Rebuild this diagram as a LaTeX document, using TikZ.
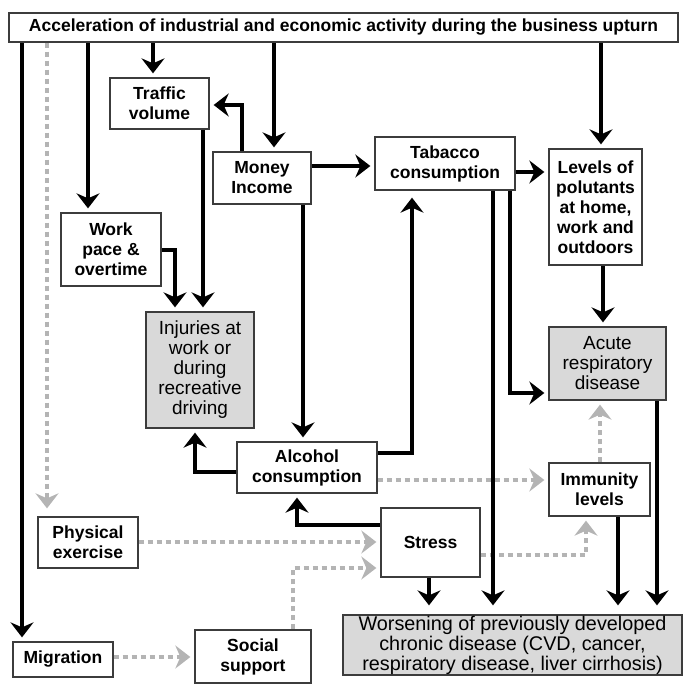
\documentclass[tikz,border=0pt]{standalone}
\usepackage{fontspec}
\setmainfont{Liberation Sans}
\usetikzlibrary{arrows.meta}
\pgfdeclarelayer{nodelayer}
\pgfdeclarelayer{edgelayer}
\pgfsetlayers{edgelayer,nodelayer,main}
\definecolor{boxgrey}{RGB}{217,217,217}
\definecolor{dotgrey}{RGB}{180,180,180}
\definecolor{rimgrey}{RGB}{60,60,60}
\tikzset{
    box/.style = {draw=rimgrey, line width=1.3pt, fill=white, align=center, inner sep=0pt,
                  font=\bfseries\fontsize{17.5}{20}\selectfont},
    shaded/.style = {box, fill=boxgrey, font=\fontsize{19}{20}\selectfont},
    arr/.style = {line width=4pt, -{Stealth[length=15pt, width=23pt, inset=5pt]}, shorten >=4pt},
    dotarr/.style = {arr, dotgrey, line width=4.5pt, dash pattern=on 5pt off 4pt}
}

\begin{document}
\begin{tikzpicture}[x=1pt, y=-1pt]
  \useasboundingbox (0,0) rectangle (684,685);
  \begin{pgfonlayer}{nodelayer}
    \node [box, minimum width=669, minimum height=29, font=\bfseries\fontsize{17.5}{20}\selectfont] (top) at (343.5,27.5) {Acceleration of industrial and economic activity during the business upturn};
    \node [box, minimum width=99, minimum height=51] (traffic) at (159.5,103.5) {Traffic\\volume};
    \node [box, minimum width=98, minimum height=52] (money) at (262,178) {Money\\Income};
    \node [box, minimum width=100, minimum height=73] (work) at (111,249.5) {Work\\pace \&\\overtime};
    \node [shaded, minimum width=108, minimum height=116] (injuries) at (200,370) {Injuries at\\work or\\during\\recreative\\driving};
    \node [box, minimum width=140, minimum height=53] (tabacco) at (445,163.5) {Tabacco\\consumption};
    \node [box, minimum width=93, minimum height=116] (levels) at (595.5,207) {Levels of\\polutants\\at home,\\work and\\outdoors};
    \node [shaded, minimum width=117, minimum height=73] (acute) at (607.5,363.5) {Acute\\respiratory\\disease};
    \node [box, minimum width=140, minimum height=51] (alcohol) at (307,467.5) {Alcohol\\consumption};
    \node [box, minimum width=100, minimum height=51] (physical) at (88,542.5) {Physical\\exercise};
    \node [box, minimum width=99, minimum height=69] (stress) at (430.5,542.5) {Stress};
    \node [box, minimum width=101, minimum height=53] (immunity) at (599.5,489.5) {Immunity\\levels};
    \node [box, minimum width=100, minimum height=35] (migration) at (63,659.5) {Migration};
    \node [box, minimum width=116, minimum height=53] (social) at (253,656.5) {Social\\support};
    \node [shaded, minimum width=339, minimum height=60, font=\fontsize{19.8}{20}\selectfont] (worsening) at (512.5,645) {Worsening of previously developed\\chronic disease (CVD, cancer,\\respiratory disease, liver cirrhosis)};
  \end{pgfonlayer}
  \begin{pgfonlayer}{edgelayer}
    % grey dotted links
    \draw [dotarr, shorten >=8pt] (top.south -| 47,0) to (physical.north -| 47,0);
    \draw [dotarr] (immunity.north -| 600,0) to (acute.south -| 600,0);
    \draw [dotarr] (alcohol.east |- 0,480) to (immunity.west |- 0,480);
    \draw [dotarr] (stress.east |- 0,555) -| (immunity.south -| 586,0);
    \draw [dotarr] (physical.east |- 0,542) to (stress.west |- 0,542);
    \draw [dotarr] (social.north -| 293,0) |- (stress.west |- 0,568);
    \draw [dotarr] (migration.east |- 0,657) to (social.west |- 0,657);
    % from the top box
    \draw [arr] (top.south -| 22,0) to (migration.north -| 22,0);
    \draw [arr] (top.south -| 88,0) to (work.north -| 88,0);
    \draw [arr] (top.south -| 153,0) to (traffic.north -| 153,0);
    \draw [arr] (top.south -| 274,0) to (money.north -| 274,0);
    \draw [arr] (top.south -| 601,0) to (levels.north -| 601,0);
    % black links
    \draw [arr] (money.north -| 242,0) |- (traffic.east |- 0,105);
    \draw [arr] (traffic.south -| 203,0) to (injuries.north -| 203,0);
    \draw [arr] (work.east |- 0,250) -| (injuries.north -| 175,0);
    \draw [arr] (money.south -| 303,0) to (alcohol.north -| 303,0);
    \draw [arr] (money.east |- 0,166) to (tabacco.west |- 0,166);
    \draw [arr] (alcohol.west |- 0,472) -| (injuries.south -| 195,0);
    \draw [arr, shorten >=7pt] (alcohol.east |- 0,453) -| (tabacco.south -| 412,0);
    \draw [arr] (tabacco.east |- 0,172) to (levels.west |- 0,172);
    \draw [arr] (levels.south -| 603,0) to (acute.north -| 603,0);
    \draw [arr] (tabacco.south -| 510,0) |- (acute.west |- 0,393);
    \draw [arr] (stress.west |- 0,525) -| (alcohol.south -| 297,0);
    \draw [arr, shorten >=9pt] (tabacco.south -| 493,0) to (worsening.north -| 493,0);
    \draw [arr, shorten >=9pt] (acute.south -| 657,0) to (worsening.north -| 657,0);
    \draw [arr, shorten >=9pt] (immunity.south -| 618,0) to (worsening.north -| 618,0);
    \draw [arr, shorten >=9pt] (stress.south -| 429,0) to (worsening.north -| 429,0);
  \end{pgfonlayer}
\end{tikzpicture}
\end{document}
